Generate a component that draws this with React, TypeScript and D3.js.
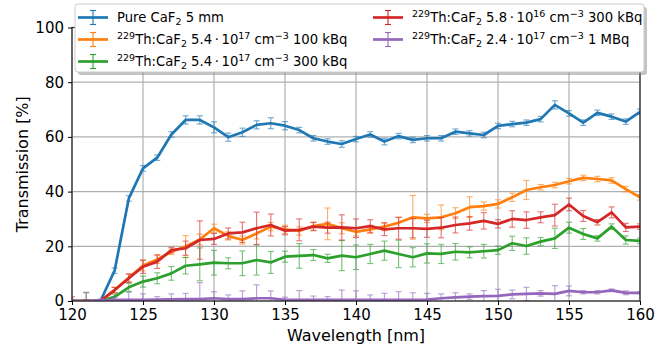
import React, { useEffect, useRef } from "react";
import * as d3 from "d3";

// wavelength grid [nm]
const wavelengths = [
  120, 121, 122, 123, 124, 125, 126, 127, 128, 129, 130, 131, 132, 133, 134,
  135, 136, 137, 138, 139, 140, 141, 142, 143, 144, 145, 146, 147, 148, 149,
  150, 151, 152, 153, 154, 155, 156, 157, 158, 159, 160,
];

// transmission [%] per sample
const pureCaF2 = [
  0, 0, 0, 11.1, 37.5, 48.5, 52.4, 60.9, 66.2, 66.2, 63.5, 59.9, 61.7, 64.4,
  65.0, 64.1, 62.5, 59.5, 58.3, 57.4, 59.2, 60.9, 58.3, 60.3, 58.9, 59.5, 59.5,
  61.9, 61.3, 60.7, 64.0, 64.7, 65.2, 66.5, 71.7, 68.6, 65.2, 68.8, 67.4, 65.6,
  69.2,
];
const pureCaF2Err = [
  0.5, 0.5, 0.5, 1, 1, 1, 1, 1, 1.5, 1.5, 2, 1.5, 1.5, 1.5, 2, 1.5, 1, 1, 1,
  1.2, 1, 1, 1.2, 1, 1, 1, 1, 1, 1, 1, 1, 1, 1, 1, 1.5, 1, 1, 1, 1, 1, 1,
];

const th100k = [
  0, 0, 0, 4, 8.5, 13, 15.2, 18.0, 19.9, 22.5, 26.6, 23.8, 22.3, 24.7, 27.2,
  26.2, 25.6, 27.4, 28.2, 26.6, 25.3, 26.2, 27.2, 28.6, 30.6, 30.2, 30.6, 32.1,
  34.3, 34.7, 35.5, 37.9, 40.6, 41.6, 42.4, 43.8, 45.0, 44.6, 44.1, 40.9, 37.9,
];
const th100kErr = [
  0.5, 0.5, 0.5, 1, 1.5, 2, 1.5, 1, 4, 2, 1.5, 1.5, 1.5, 2, 1.5, 1.5, 1.5, 1.5,
  5.8, 2, 1.5, 1.5, 1.5, 2, 8, 1.5, 4.5, 2, 3.8, 1.5, 1.5, 1.5, 3.5, 1, 1, 1, 1,
  1, 1, 1, 1,
];

const th300k = [
  0, 0, 0, 1.5, 5, 7.1, 8.3, 10.1, 12.9, 13.4, 14.0, 13.8, 13.8, 15.0, 14.1,
  16.2, 16.5, 16.8, 15.6, 16.6, 16.0, 17.2, 18.4, 17.2, 16.0, 17.4, 17.2, 18.0,
  17.8, 18.2, 18.6, 21.1, 20.1, 21.7, 22.9, 26.8, 24.5, 22.9, 27.2, 22.3, 22.0,
];
const th300kErr = [
  0.5, 3, 0.5, 1, 1.5, 2, 2, 2.5, 3, 6, 4.5, 2, 4.5, 5.5, 4, 2, 4.5, 2, 1.5,
  5.5, 4.5, 3.5, 3.5, 5, 3.5, 3.5, 3.5, 3, 2, 2.5, 1.5, 2.6, 3, 1.5, 3.7, 2, 2,
  1, 1, 1.5, 1,
];

const th58e16 = [
  0, 0, 0, 4, 8.3, 12.5, 14.4, 18.6, 19.3, 22.3, 22.7, 24.7, 25.1, 26.6, 27.8,
  25.7, 26.0, 27.2, 26.8, 26.9, 26.6, 27.4, 26.2, 26.6, 26.6, 26.4, 26.8, 27.8,
  28.4, 29.3, 28.2, 30.0, 29.6, 30.6, 31.4, 35.3, 31.1, 28.8, 32.4, 26.9, 27.2,
];
const th58e16Err = [
  1.5, 0.5, 0.5, 1, 1.5, 2.4, 2.5, 1, 2.6, 7, 2, 2, 3.7, 5.9, 4, 1.5, 4, 1.5, 2,
  4.6, 3.4, 2.3, 2.3, 4, 3.5, 3.1, 3.7, 2.9, 2.5, 3, 1.5, 3, 3, 2, 4, 2.3, 2, 1,
  2, 1.5, 1,
];

const th1M = [
  0, 0, 0.2, 0.4, 0.4, 0.4, 0.5, 0.6, 0.7, 0.7, 1.0, 0.7, 0.7, 1.0, 1.0, 0.4,
  0.4, 0.4, 0.4, 0.4, 0.4, 0.4, 0.4, 0.4, 0.4, 0.5, 1.0, 1.3, 1.6, 1.8, 1.9,
  2.4, 2.6, 2.8, 2.6, 3.7, 3.2, 3.2, 3.9, 3.0, 3.0,
];
const th1MErr = [
  0.5, 3.2, 0.5, 1, 2.8, 2.2, 1.1, 2, 2.1, 6, 2.4, 1.5, 3, 4.9, 2.7, 1, 3.4, 1.4,
  1.2, 3.6, 3.3, 1.8, 2.4, 3, 2.6, 2.3, 1.6, 1.7, 1, 2, 2.4, 1.6, 2.4, 1, 3,
  1.8, 0.6, 0.6, 0.5, 0.7, 0.4,
];

const xTicks = [120, 125, 130, 135, 140, 145, 150, 155, 160];
const yTicks = [0, 20, 40, 60, 80, 100];

type Part = { t: string; sup?: boolean; sub?: boolean };

const series = [
  { values: pureCaF2, err: pureCaF2Err, color: "#1f77b4",
    label: [{ t: "Pure CaF" }, { t: "2", sub: true }, { t: " 5 mm" }] as Part[] },
  { values: th100k, err: th100kErr, color: "#ff7f0e",
    label: [{ t: "229", sup: true }, { t: "Th:CaF" }, { t: "2", sub: true }, { t: " 5.4\u2009·\u200910" }, { t: "17", sup: true }, { t: " cm" }, { t: "\u22123", sup: true }, { t: " 100 kBq" }] as Part[] },
  { values: th300k, err: th300kErr, color: "#2ca02c",
    label: [{ t: "229", sup: true }, { t: "Th:CaF" }, { t: "2", sub: true }, { t: " 5.4\u2009·\u200910" }, { t: "17", sup: true }, { t: " cm" }, { t: "\u22123", sup: true }, { t: " 300 kBq" }] as Part[] },
  { values: th58e16, err: th58e16Err, color: "#d62728",
    label: [{ t: "229", sup: true }, { t: "Th:CaF" }, { t: "2", sub: true }, { t: " 5.8\u2009·\u200910" }, { t: "16", sup: true }, { t: " cm" }, { t: "\u22123", sup: true }, { t: " 300 kBq" }] as Part[] },
  { values: th1M, err: th1MErr, color: "#9467bd",
    label: [{ t: "229", sup: true }, { t: "Th:CaF" }, { t: "2", sub: true }, { t: " 2.4\u2009·\u200910" }, { t: "17", sup: true }, { t: " cm" }, { t: "\u22123", sup: true }, { t: " 1 MBq" }] as Part[] },
];

const FONT = "DejaVu Sans, sans-serif";

const App: React.FC = () => {
  const svgRef = useRef<SVGSVGElement | null>(null);

  useEffect(() => {
    document.body.style.margin = "0";
    const W = 667, H = 346;
    const margin = { top: 27.5, right: 27, bottom: 45, left: 72 };
    const svg = d3.select(svgRef.current);
    svg.selectAll("*").remove();
    svg.attr("width", W).attr("height", H);

    const x = d3.scaleLinear().domain([120, 160]).range([margin.left, W - margin.right]);
    const y = d3.scaleLinear().domain([0, 100]).range([H - margin.bottom, margin.top]);

    svg.append("defs").append("clipPath").attr("id", "plotclip")
      .append("rect")
      .attr("x", margin.left).attr("y", margin.top)
      .attr("width", W - margin.left - margin.right)
      .attr("height", H - margin.top - margin.bottom);

    // grid
    const grid = svg.append("g");
    xTicks.forEach((t) => {
      grid.append("line").attr("x1", x(t)).attr("x2", x(t))
        .attr("y1", y(0)).attr("y2", y(100))
        .attr("stroke", "#b0b0b0").attr("stroke-width", 1.2);
    });
    yTicks.forEach((t) => {
      grid.append("line").attr("x1", x(120)).attr("x2", x(160))
        .attr("y1", y(t)).attr("y2", y(t))
        .attr("stroke", "#b0b0b0").attr("stroke-width", 1.2);
    });

    const plot = svg.append("g").attr("clip-path", "url(#plotclip)");
    const line = d3.line<number>()
      .x((_, i) => x(wavelengths[i]))
      .y((d) => y(d));

    series.forEach((s) => {
      const g = plot.append("g");
      const eb = g.append("g").attr("stroke", s.color).attr("stroke-width", 1.1).attr("opacity", 0.65);
      s.values.forEach((v, i) => {
        const cx = x(wavelengths[i]);
        const y1 = y(v - s.err[i]);
        const y2 = y(v + s.err[i]);
        eb.append("line").attr("x1", cx).attr("x2", cx).attr("y1", y1).attr("y2", y2);
        eb.append("line").attr("x1", cx - 3).attr("x2", cx + 3).attr("y1", y1).attr("y2", y1);
        eb.append("line").attr("x1", cx - 3).attr("x2", cx + 3).attr("y1", y2).attr("y2", y2);
      });
      g.append("path").datum(s.values).attr("d", line)
        .attr("fill", "none").attr("stroke", s.color)
        .attr("stroke-width", 2.7).attr("stroke-linejoin", "round");
    });

    // spines
    svg.append("rect")
      .attr("x", margin.left).attr("y", margin.top)
      .attr("width", W - margin.left - margin.right)
      .attr("height", H - margin.top - margin.bottom)
      .attr("fill", "none").attr("stroke", "#222").attr("stroke-width", 1.2);

    // x axis
    const xAxis = svg.append("g")
      .attr("transform", `translate(0,${H - margin.bottom})`)
      .call(d3.axisBottom(x).tickValues(wavelengths).tickSize(2).tickFormat(() => ""));
    xAxis.call(d3.axisBottom(x).tickValues(xTicks).tickSize(4).tickPadding(4.5).tickFormat(d3.format("d")));
    xAxis.select(".domain").remove();
    xAxis.selectAll("text").attr("font-family", FONT).attr("font-size", 15).attr("fill", "#000");
    xAxis.selectAll("line").attr("stroke", "#000");

    // y axis
    const yMinor = d3.range(0, 101, 5);
    const yAxis = svg.append("g")
      .attr("transform", `translate(${margin.left},0)`)
      .call(d3.axisLeft(y).tickValues(yMinor).tickSize(2).tickFormat(() => ""));
    yAxis.call(d3.axisLeft(y).tickValues(yTicks).tickSize(4).tickPadding(4).tickFormat(d3.format("d")));
    yAxis.select(".domain").remove();
    yAxis.selectAll("text").attr("font-family", FONT).attr("font-size", 15).attr("fill", "#000");
    yAxis.selectAll("line").attr("stroke", "#000");

    svg.append("text")
      .attr("x", (margin.left + W - margin.right) / 2).attr("y", 341)
      .attr("text-anchor", "middle").attr("font-family", FONT).attr("font-size", 16)
      .text("Wavelength [nm]");
    svg.append("text")
      .attr("transform", `translate(28,${(margin.top + H - margin.bottom) / 2}) rotate(-90)`)
      .attr("text-anchor", "middle").attr("font-family", FONT).attr("font-size", 16)
      .text("Transmission [%]");

    // legend
    const lg = svg.append("g");
    const lx = 75, ly = 4, lw = 569, lh = 68;
    lg.append("rect").attr("x", lx + 3).attr("y", ly + 3).attr("width", lw).attr("height", lh)
      .attr("rx", 3).attr("fill", "#888").attr("opacity", 0.5);
    lg.append("rect").attr("x", lx).attr("y", ly).attr("width", lw).attr("height", lh)
      .attr("rx", 3).attr("fill", "#fff").attr("stroke", "#ccc").attr("stroke-width", 1);

    const order = [0, 1, 2, 3, 4];
    order.forEach((si, k) => {
      const s = series[si];
      const col = k < 3 ? 0 : 1;
      const row = k < 3 ? k : k - 3;
      const hx = col === 0 ? 78 : 373;
      const cy = 17.5 + row * 22;
      const item = lg.append("g");
      item.append("line").attr("x1", hx).attr("x2", hx + 30).attr("y1", cy).attr("y2", cy)
        .attr("stroke", s.color).attr("stroke-width", 2.7);
      const mx = hx + 15;
      item.append("line").attr("x1", mx).attr("x2", mx).attr("y1", cy - 7).attr("y2", cy + 7)
        .attr("stroke", s.color).attr("stroke-width", 1.1);
      [cy - 7, cy + 7].forEach((yy) => {
        item.append("line").attr("x1", mx - 3).attr("x2", mx + 3).attr("y1", yy).attr("y2", yy)
          .attr("stroke", s.color).attr("stroke-width", 1.1);
      });
      const txt = item.append("text").attr("x", hx + 39).attr("y", cy + 4.8)
        .attr("font-family", FONT).attr("font-size", 13.2).attr("fill", "#000");
      let off = 0;
      s.label.forEach((p) => {
        const target = p.sup ? -5.5 : p.sub ? 3 : 0;
        txt.append("tspan").attr("dy", target - off)
          .attr("font-size", p.sup || p.sub ? 9.5 : 13.2)
          .text(p.t);
        off = target;
      });
    });
  }, []);

  return <svg ref={svgRef} style={{ display: "block" }}></svg>;
};

export default App;
